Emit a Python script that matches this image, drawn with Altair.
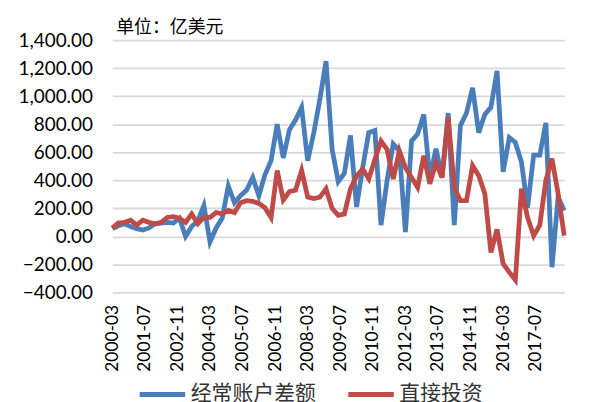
import altair as alt
import pandas as pd

# quarterly, months since 2000-03
months = list(range(0, 223, 3))

current_account = [55, 75, 90, 70, 55, 45, 60, 90, 95, 100,
                   95, 130, 0, 70, 110, 220, -40, 60, 130, 360,
                   240, 290, 330, 420, 290, 440, 540, 800, 560, 760,
                   830, 920, 540, 740, 980, 1250, 620, 390, 450, 720,
                   210, 490, 740, 755, 80, 400, 660, 610, 30, 680,
                   730, 870, 420, 625, 420, 880, 80, 790, 880, 1060,
                   740, 870, 920, 1180, 460, 705, 670, 530, 205, 580,
                   580, 810, -220, 280, 185]

direct_investment = [60, 95, 100, 115, 80, 115, 100, 90, 100, 135,
                     140, 130, 100, 160, 90, 135, 135, 170, 160, 185,
                     170, 240, 255, 250, 235, 205, 135, 470, 260, 320,
                     330, 470, 280, 270, 280, 340, 200, 150, 160, 340,
                     430, 480, 410, 550, 680, 620, 410, 610, 490, 420,
                     350, 575, 375, 525, 420, 850, 350, 255, 255, 505,
                     435, 305, -115, 50, -195, -255, -310, 340, 135, 5,
                     80, 400, 555, 305, 5]

series_names = ["经常账户差额", "直接投资"]
series_colors = ["#4A7EBB", "#BE4B48"]
tick_months = list(range(0, 209, 16))

rows = []
for name, vals in zip(series_names, [current_account, direct_investment]):
    for m, v in zip(months, vals):
        rows.append({"m": m, "value": v, "series": name})
df = pd.DataFrame(rows)

label_expr = ("(2000 + floor((datum.value + 2) / 12)) + '-' + "
              "(((datum.value + 2) % 12 + 1) < 10 ? '0' : '') + ((datum.value + 2) % 12 + 1)")

chart = alt.Chart(df).mark_line(strokeWidth=4.8, strokeJoin="miter", strokeMiterLimit=4).encode(
    x=alt.X("m:Q", scale=alt.Scale(domain=[0, 222], nice=False, zero=False),
            axis=alt.Axis(values=tick_months, labelExpr=label_expr, title=None, grid=False,
                          labelAngle=270, labelFontSize=17.5, labelFont="Lato", labelColor="#000000",
                          labelPadding=12, ticks=False, domain=False, labelOverlap=False,
                          labelFlush=False)),
    y=alt.Y("value:Q", scale=alt.Scale(domain=[-400, 1400], nice=False),
            axis=alt.Axis(values=list(range(-400, 1401, 200)), format=",.2f", title=None,
                          labelFontSize=19, labelFont="Lato", labelColor="#000000",
                          labelPadding=20, ticks=False, domain=False,
                          gridColor="#D9D9D9", gridWidth=1.8)),
    color=alt.Color("series:N", sort=series_names,
                    scale=alt.Scale(domain=series_names, range=series_colors),
                    legend=alt.Legend(title=None, orient="none", direction="horizontal",
                                      legendX=25, legendY=331, symbolType="stroke",
                                      symbolSize=2100, symbolStrokeWidth=5,
                                      labelFontSize=21, labelFont="Noto Sans CJK SC",
                                      labelColor="#333333", labelOffset=3, columnPadding=22)),
    order=alt.Order("m:Q"),
).properties(
    width=455, height=254,
    title=alt.TitleParams("单位：亿美元", anchor="start", frame="group", dx=4, dy=12,
                          offset=6, fontSize=18,
                          font="Noto Sans CJK SC", fontWeight="normal", color="#000000"),
    padding={"left": 105, "top": 31, "right": 30, "bottom": 118},
    autosize=alt.AutoSizeParams(type="none"),
).configure_view(stroke=None)

chart.save("out.html", embed_options={"renderer": "svg", "actions": False})
